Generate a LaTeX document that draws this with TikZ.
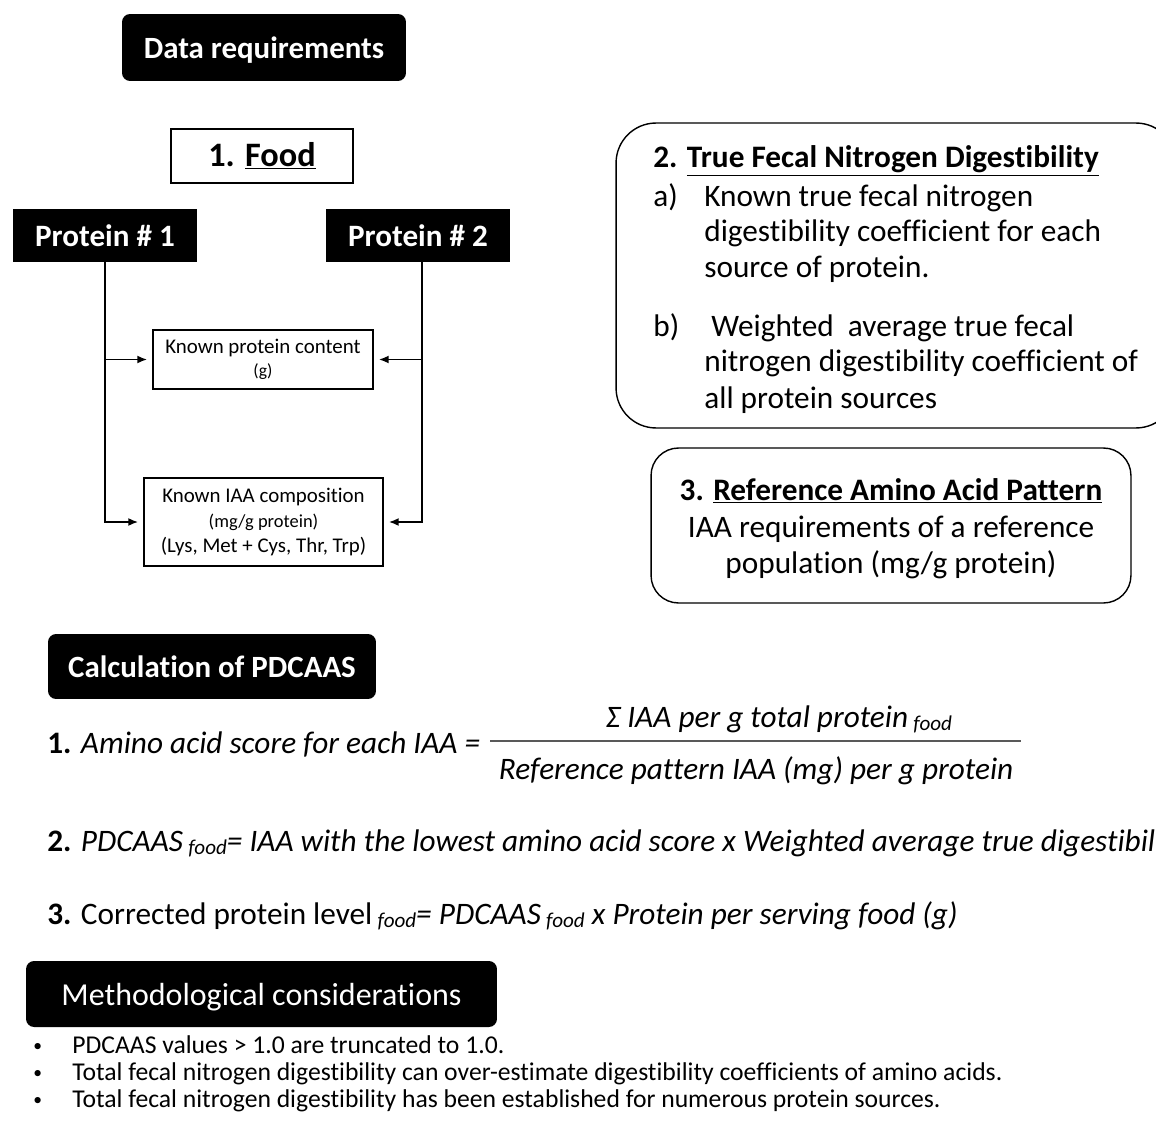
\documentclass[tikz,border=0pt]{standalone}
\usepackage{fontspec}
\setmainfont{Carlito}[Ligatures=NoCommon]
\usetikzlibrary{arrows.meta}
\newcommand\fs[2]{\fontsize{#1}{#2}\selectfont}
\newcommand\fd{{\fs{12}{14}\raisebox{-0.3ex}{\itshape food}}}
\begin{document}
\begin{tikzpicture}[x=0.02cm,y=-0.02cm,
  hdr/.style={fill=black, rounded corners=0.16cm, text=white, font=\fs{17.6}{20}\bfseries, inner sep=0pt, text depth=0pt},
  hdrr/.style={fill=black, rounded corners=0.16cm, text=white, font=\fs{18.2}{20}, inner sep=0pt, text depth=0pt},
  blk/.style={fill=black, text=white, font=\fs{17.7}{20}\bfseries, inner sep=0pt},
  wbox/.style={draw=black, line width=0.8pt, fill=white, inner sep=0pt, align=center},
  txt/.style={inner sep=0pt, anchor=base west, font=\fs{17.8}{20}},
  ctxt/.style={inner sep=0pt, anchor=base, font=\fs{17.8}{20}},
  btxt/.style={inner sep=0pt, anchor=base west, font=\fs{14.6}{16}},
  conn/.style={line width=1.1pt, -{Latex[length=0.2cm,width=0.16cm]}, shorten >=0.1cm}
]
\clip (0,0) rectangle (1156,1128);
\fill[white] (0,0) rectangle (1156,1128);

% --- Data requirements
\node[hdr, minimum width=5.68cm, minimum height=1.34cm] (dr) at (264,47.5) {Data requirements};

% --- Food block
\node[wbox, minimum width=3.64cm, minimum height=1.08cm, font=\fs{19.5}{23}\bfseries] (food) at (262,156) {1. \underline{Food}};
\node[blk, minimum width=3.68cm, minimum height=1.06cm] (p1) at (105,235.5) {Protein \# 1};
\node[blk, minimum width=3.68cm, minimum height=1.06cm] (p2) at (418,235.5) {Protein \# 2};
\node[wbox, minimum width=4.4cm, minimum height=1.18cm, font=\fs{11.9}{13}] (kp) at (263,359.5) {Known protein content\\{\fs{10}{12}(g)}};
\node[wbox, minimum width=4.78cm, minimum height=1.76cm, font=\fs{11.9}{14}] (iaa) at (263.5,522) {Known IAA composition\\{\fs{10.5}{12}(mg/g protein)}\\(Lys, Met + Cys, Thr, Trp)};

\coordinate (p1b) at (p1.south);
\coordinate (p2b) at ([xshift=0.08cm]p2.south);
\draw[conn] (p1b) |- (iaa.west);
\draw[conn] (p1b |- kp.west) -- (kp.west);
\draw[conn] (p2b) |- (iaa.east);
\draw[conn] (p2b |- kp.east) -- (kp.east);

% --- Box 2
\node[draw=black, line width=0.8pt, rounded corners=0.8cm, minimum width=11.2cm, minimum height=6.1cm, inner sep=0pt] (b2) at (896,275.5) {};
\node[txt, font=\fs{17.8}{20}\bfseries] (b2t) at (653,168) {2. \underline{True Fecal Nitrogen Digestibility}};
\node[txt] (b2a) at (653,207) {a)};
\node[txt] (b2a1) at (704,207) {Known true fecal nitrogen};
\node[txt] (b2a2) at (704,242) {digestibility coefficient for each};
\node[txt] (b2a3) at (704,278) {source of protein.};
\node[txt] (b2b) at (653,337) {b)};
\node[txt] (b2b1) at (704,337) {\ Weighted \ average true fecal};
\node[txt] (b2b2) at (704,372) {nitrogen digestibility coefficient of};
\node[txt] (b2b3) at (704,408) {all protein sources};

% --- Box 3
\node[draw=black, line width=0.8pt, rounded corners=0.55cm, minimum width=9.6cm, minimum height=3.1cm, inner sep=0pt] (b3) at (891,525.5) {};
\node[ctxt, font=\fs{17.8}{20}\bfseries] (b3t) at (891,500) {3. \underline{Reference Amino Acid Pattern}};
\node[ctxt] (b3l1) at (891,537) {IAA requirements of a reference};
\node[ctxt] (b3l2) at (891,573) {population (mg/g protein)};

% --- Calculation of PDCAAS
\node[hdr, minimum width=6.56cm, minimum height=1.3cm] (calc) at (212,666.5) {Calculation of PDCAAS};

\node[txt] (f1) at (47,753) {\textbf{1.} \textit{Amino acid score for each IAA =}};
\node[ctxt] (f1n) at (779,727) {\textit{Σ IAA per g total protein}\,\fd};
\node[ctxt] (f1d) at (756,779) {\textit{Reference pattern IAA (mg) per g protein}};
\coordinate (fl1) at (490,741);
\coordinate (fl2) at (1021,741);
\draw[line width=0.6pt, gray!70!black] (fl1) -- (fl2);

\node[txt] (f2) at (47,851) {\textbf{2.} \textit{PDCAAS}\,\fd\textit{= IAA with the lowest amino acid score x Weighted average true digestibil}};
\node[txt] (f3) at (47,924) {\textbf{3.} Corrected protein level\,\fd\textit{= PDCAAS}\,\fd\ \textit{x Protein per serving food (g)}};

% --- Methodological considerations
\node[hdrr, minimum width=9.42cm, minimum height=1.32cm] (meth) at (261.5,994) {Methodological considerations};

\node[btxt, font=\fs{10}{12}] (m1b) at (33,1051) {•};
\node[btxt] (m1) at (72,1053) {PDCAAS values > 1.0 are truncated to 1.0.};
\node[btxt, font=\fs{10}{12}] (m2b) at (33,1078) {•};
\node[btxt] (m2) at (72,1080) {Total fecal nitrogen digestibility can over-estimate digestibility coefficients of amino acids.};
\node[btxt, font=\fs{10}{12}] (m3b) at (33,1105) {•};
\node[btxt] (m3) at (72,1107) {Total fecal nitrogen digestibility has been established for numerous protein sources.};
\end{tikzpicture}
\end{document}
